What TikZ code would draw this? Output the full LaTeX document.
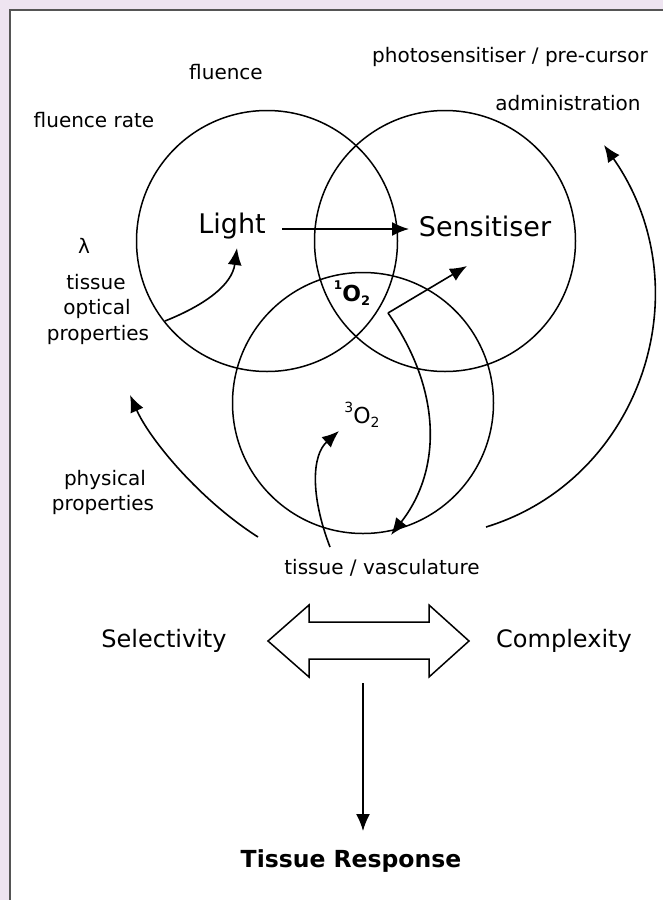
\documentclass[tikz,border=0pt]{standalone}
\usepackage{fontspec}
\setmainfont{DejaVu Sans}
\usetikzlibrary{arrows.meta}
\definecolor{lav}{HTML}{EEE4F1}
\definecolor{frame}{HTML}{555555}
\begin{document}
\begin{tikzpicture}[x=1pt,y=-1pt,
  lbl/.style={inner sep=0pt,font=\fontsize{20}{22}\selectfont},
  big/.style={inner sep=0pt,font=\fontsize{27}{30}\selectfont},
  mid/.style={inner sep=0pt,font=\fontsize{24}{26}\selectfont},
  ring/.style={draw,line width=1.5pt},
  arr/.style={line width=1.6pt,-{Latex[length=17pt,width=14pt]}}]
\useasboundingbox (0,0) rectangle (663,900);
\fill[lav] (0,0) rectangle (663,900);
\fill[white] (9.5,10) rectangle (663,900);
\draw[frame,line width=2pt] (9.5,900) -- (9.5,10) -- (663,10);
% circles
\node[ring,circle,minimum size=261pt,inner sep=0pt] (cl) at (267,241) {};
\node[ring,circle,minimum size=261pt,inner sep=0pt] (cs) at (445,241) {};
\node[ring,circle,minimum size=261pt,inner sep=0pt] (ct) at (363,403) {};
% labels
\node[lbl] (flu) at (226,72) {fluence};
\node[lbl] (pho) at (510,57) {photosensitiser / pre-cursor};
\node[lbl] (flr) at (94,120) {fluence rate};
\node[lbl] (adm) at (568,103) {administration};
\node[big] (light) at (232,226) {Light};
\node[big] (sens) at (485,226) {Sensitiser};
\node[lbl] (lam) at (84,246) {λ};
\node[lbl] (tis) at (96,282) {tissue};
\node[lbl] (opt) at (97,309) {optical};
\node[lbl] (prp) at (98,335) {properties};
\node[inner sep=0pt,font=\fontsize{22}{24}\selectfont\bfseries] (so) at (352,293) {\raisebox{0.55em}{\fontsize{12}{12}\selectfont 1}O\raisebox{-0.2em}{\fontsize{13}{13}\selectfont 2}};
\node[inner sep=0pt,font=\fontsize{22}{24}\selectfont] (to) at (362,415) {\raisebox{0.5em}{\fontsize{14}{14}\selectfont 3}O\raisebox{-0.2em}{\fontsize{14}{14}\selectfont 2}};
\node[lbl] (phy) at (105,480) {physical};
\node[lbl] (prp2) at (103,505) {properties};
\node[lbl] (tv) at (382,568) {tissue / vasculature};
\node[mid] (sel) at (164,641) {Selectivity};
\node[mid] (cpx) at (564,641) {Complexity};
\node[inner sep=0pt,font=\fontsize{23.5}{26}\selectfont\bfseries] (tr) at (351,861) {Tissue Response};
% coordinates
\coordinate (l1) at (282,229);
\coordinate (l2) at (409,229);
\coordinate (o1) at (165,321);
\coordinate (o2) at (237,248);
\coordinate (k) at (388,313);
\coordinate (s2) at (467,266);
\coordinate (d2) at (391,535);
\coordinate (t1) at (330,547);
\coordinate (t2) at (339,431);
\coordinate (p1) at (258,537);
\coordinate (p2) at (130,395);
\coordinate (r1) at (486,527);
\coordinate (r2) at (604,145);
\coordinate (v1) at (363,683);
\coordinate (v2) at (363,831);
% arrows
\draw[arr] (l1) -- (l2);
\draw[arr] (o1) .. controls (205,305) and (232,285) .. (o2);
\draw[arr] (k) -- (s2);
\draw[arr] (k) .. controls (442,390) and (442,470) .. (d2);
\draw[arr] (t1) .. controls (310,495) and (312,455) .. (t2);
\draw[arr] (p1) .. controls (200,500) and (150,440) .. (p2);
\draw[arr] (r1) .. controls (640,480) and (705,290) .. (r2);
% double arrow
\draw[line width=1.5pt,line join=miter] (268,641) -- (309,605) -- (309,622) -- (429,622) -- (429,605) -- (469,641) -- (429,677) -- (429,659) -- (309,659) -- (309,677) -- cycle;
\draw[arr] (v1) -- (v2);
\end{tikzpicture}
\end{document}
